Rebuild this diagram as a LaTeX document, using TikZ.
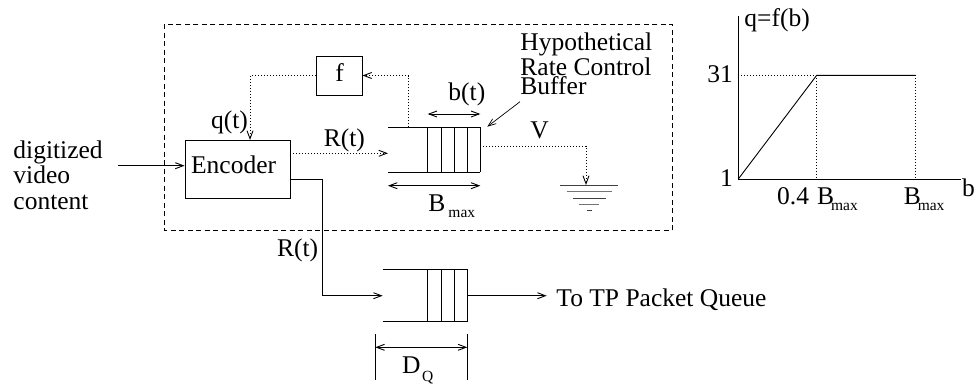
\documentclass[tikz,border=0pt]{standalone}
\usepackage{fontspec}
\setmainfont{Liberation Serif}
\usetikzlibrary{arrows.meta}
\begin{document}
\begin{tikzpicture}[x=1pt,y=-1pt, line width=0.9pt,
 arr/.style={-{Straight Barb[length=8pt,width=6pt]}},
 dblarr/.style={{Straight Barb[length=8pt,width=6pt]}-{Straight Barb[length=8pt,width=6pt]}},
 dots/.style={dash pattern=on 1pt off 2pt},
 txt/.style={inner sep=0pt, anchor=base west, font=\fontsize{25.5}{26}\selectfont},
 rtxt/.style={txt, anchor=base east},
 sub/.style={inner sep=0pt, anchor=base west, font=\fontsize{15.5}{16}\selectfont},
 box/.style={draw, inner sep=0pt},
 gline/.style={line width=1pt, black!75}]
\useasboundingbox (0,0) rectangle (974,383);
% dashed enclosure
\draw[dash pattern=on 5pt off 3.5pt] (164.7,24) rectangle (672,230.5);
% encoder and f
\node[box, minimum width=105pt, minimum height=58pt] (enc) at (237.5,169) {};
\node[txt] (enct) at (190.7,173.3) {Encoder};
\node[box, minimum width=46pt, minimum height=39pt] (fb) at (339,75.5) {};
\node[txt] (ft) at (335,81.7) {f};
% input
\node[txt] (dig) at (13,158.3) {digitized};
\node[txt] (vid) at (13,183.3) {video};
\node[txt] (con) at (13,209) {content};
\coordinate (vin) at (118,165.7);
\draw[arr] (vin) -- (vin -| enc.west);
% feedback
\coordinate (btap) at (408.3,127.3);
\coordinate (qin) at (250,140);
\draw[dots,arr] (btap) |- (fb.east);
\draw[dots,arr] (fb.west) -| (qin);
\node[txt] (qt) at (210.7,128) {q(t)};
% R(t) to hypothetical buffer
\coordinate (b1in) at (388,153.3);
\draw[dots,arr] (enc.east |- b1in) -- (b1in);
\node[txt] (rt1) at (323.3,146.7) {R(t)};
% buffer 1
\draw (388,127.3) -- (480.3,127.3);
\draw (388,172.3) -- (480.3,172.3);
\foreach \xx in {427.7,441,454.3,467.7,480.3} \draw (\xx,127.3) -- (\xx,172.3);
\draw[dblarr] (427.7,114) -- (480.3,114);
\node[txt] (bt) at (448,100) {b(t)};
\draw[dblarr] (388,185.7) -- (480.3,185.7);
\node[txt] (bm) at (428,211.7) {B};
\node[sub] (bms) at (448,217) {max};
% label hypothetical
\node[txt] (h1) at (520,50) {Hypothetical};
\node[txt] (h2) at (520,75) {Rate Control};
\node[txt] (h3) at (520,94.3) {Buffer};
\coordinate (hp) at (520,101.7);
\coordinate (hq) at (487.3,126.7);
\draw[arr, line width=0.7pt] (hp) -- (hq);
% drain V
\coordinate (gnd) at (586,185);
\draw[dots,arr] (480.3,146) -| (gnd);
\node[txt] (vt) at (530,138) {V};
\draw[gline] (560,185) -- (618.3,185);
\draw[gline, black!55] (566.7,191.7) -- (612.3,191.7);
\draw[gline] (573,198.3) -- (606,198.3);
\draw[gline, black!55] (579,204.3) -- (599,204.3);
\draw[gline] (586.7,210.7) -- (592,210.7);
% output path
\coordinate (b2in) at (382.7,295.7);
\draw[arr] (enc.east |- 0,179.3) -| (322.7,295.7) -- (b2in);
\node[txt] (rt2) at (276.7,256.7) {R(t)};
% buffer 2
\draw (382.7,269.3) -- (467.3,269.3);
\draw (382.7,321.7) -- (467.3,321.7);
\foreach \xx in {427.7,441,454.3,467.3} \draw (\xx,269.3) -- (\xx,321.7);
\coordinate (b2out) at (467.3,295.7);
\draw[arr] (b2out) -- (546.7,295.7);
\node[txt] (tp) at (556,306.7) {To TP Packet Queue};
\draw (375.3,334) -- (375.3,380);
\draw (467.3,334) -- (467.3,380);
\draw[dblarr] (375.3,347.3) -- (467.3,347.3);
\node[txt] (dq) at (401.7,373.3) {D};
\node[sub] (dqs) at (421.7,381) {Q};
% graph
\coordinate (o) at (738.3,179);
\coordinate (k1) at (816.7,75.3);
\coordinate (k2) at (915.7,75.3);
\draw (738.3,16) -- (o) -- (960.7,179);
\draw (o) -- (k1) -- (k2);
\draw[dots] (738.3,75.3) -- (k1) -- (816.7,179);
\draw[dots] (k2) -- (915.7,179);
\node[txt] (qf) at (744,26) {q=f(b)};
\node[rtxt] (t31) at (733.3,82) {31};
\node[rtxt] (t1) at (733.3,186.7) {1};
\node[txt] (tb) at (961.7,196.7) {b};
\node[txt] (t04) at (776.7,204) {0.4};
\node[txt] (gb1) at (816.7,204) {B};
\node[sub] (gb1s) at (830.7,210) {max};
\node[txt] (gb2) at (903.3,204) {B};
\node[sub] (gb2s) at (917.3,210) {max};
\end{tikzpicture}
\end{document}
